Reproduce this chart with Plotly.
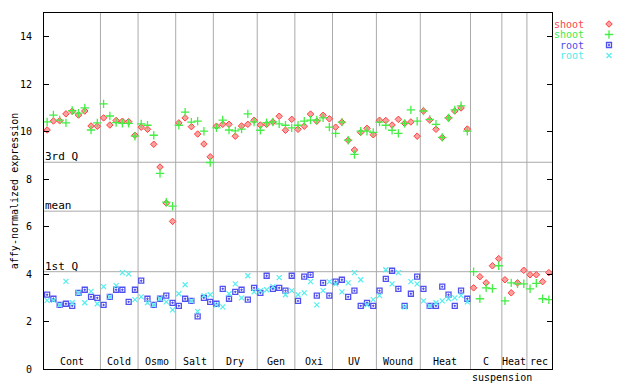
import plotly.graph_objects as go

group_labels = ["Cont", "Cold", "Osmo", "Salt", "Dry", "Gen", "Oxi", "UV", "Wound", "Heat", "C", "Heat", "rec"]
group_sizes = [9, 6, 6, 6, 7, 6, 6, 7, 7, 8, 5, 4, 4]
sub_label = "suspension"

quant_labels = ["3rd Q", "mean", "1st Q"]
quant_values = [8.71, 6.65, 4.10]

shoot_red = [
    10.07, 10.45, 10.46, 10.75, 10.86, 10.70, 10.87, 10.24, 10.23,
    10.58, 10.28, 10.47, 10.44, 10.42, 9.85,
    10.19, 10.10, 9.47, 8.51, 6.99, 6.22,
    10.37, 10.58, 10.21, 9.90, 9.48, 8.94,
    10.23, 10.31, 10.31, 9.81, 10.24, 10.31, 10.48,
    10.28, 10.31, 10.41, 10.65, 10.06, 10.52,
    10.10, 10.23, 10.74, 10.44, 10.69, 10.54,
    10.19, 10.40, 9.64, 9.23, 9.97, 10.14, 9.87,
    10.48, 10.47, 10.28, 10.52, 10.35, 10.41, 9.81,
    10.87, 10.49, 10.10, 9.75, 10.58, 10.87, 11.00, 10.11,
    3.42, 3.89, 3.63, 4.35, 4.65,
    3.76, 3.21, 3.63, 4.16,
    3.97, 3.97, 3.68, 4.06,
]
shoot_green = [
    10.41, 10.70, 10.49, 10.37, 10.89, 10.78, 11.00, 10.07, 10.37,
    11.17, 10.66, 10.38, 10.35, 10.35, 9.81,
    10.33, 10.27, 9.85, 8.24, 7.03, 6.86,
    10.27, 10.82, 10.40, 10.44, 10.02, 8.70,
    10.16, 10.49, 10.07, 10.03, 10.11, 10.75, 10.41,
    10.06, 10.38, 10.41, 10.33, 10.27, 10.16,
    10.27, 10.44, 10.49, 10.49, 10.58, 10.19,
    9.93, 10.40, 9.64, 9.04, 10.02, 10.02, 9.97,
    10.40, 10.27, 10.06, 9.93, 10.35, 10.92, 10.44,
    10.87, 10.52, 10.31, 9.76, 10.58, 10.92, 11.09, 10.02,
    4.10, 2.96, 3.42, 3.39, 4.35,
    2.87, 3.63, 3.59, 3.59,
    3.38, 3.61, 2.96, 2.92,
]
root_blue = [
    3.13, 2.96, 2.70, 2.75, 2.66, 3.21, 3.34, 3.04, 3.00,
    2.70, 3.04, 3.34, 3.34, 2.83, 3.34,
    3.72, 2.96, 2.70, 2.96, 3.09, 2.79,
    2.66, 2.96, 2.87, 2.22, 3.00, 2.83,
    2.75, 3.38, 2.96, 3.25, 3.34, 2.92, 3.42,
    3.21, 3.93, 3.38, 3.42, 3.30, 3.93,
    2.87, 3.89, 3.97, 3.09, 3.63, 3.09,
    3.68, 3.76, 3.04, 3.30, 2.66, 2.79, 2.66,
    3.30, 3.80, 4.14, 3.38, 2.66, 3.17, 3.89,
    3.38, 2.66, 2.66, 3.47, 3.13, 2.66, 3.30, 2.96,
]
root_cyan = [
    2.89, 2.89, 2.70, 3.69, 2.79, 3.21, 2.79, 3.27, 2.75,
    3.47, 3.04, 3.51, 4.06, 4.01, 2.92,
    3.04, 2.79, 2.70, 2.96, 2.83, 2.49,
    3.17, 3.55, 2.87, 2.43, 3.09, 3.13,
    2.70, 2.62, 3.17, 3.59, 3.00, 3.93, 3.25,
    3.30, 3.34, 3.47, 3.85, 3.13, 3.30,
    3.13, 3.21, 3.68, 2.70, 3.30, 3.68,
    3.59, 3.25, 3.63, 4.06, 3.76, 2.70, 2.92,
    3.09, 4.18, 3.59, 4.06, 2.62, 3.68, 3.59,
    2.87, 2.66, 2.79, 2.87, 2.96, 3.00, 3.09, 2.83,
]

series = [
    ("shoot", shoot_red, "#ff4545", dict(symbol="diamond", size=5, color="#ffa0a0", line=dict(color="#ff4040", width=1))),
    ("shoot", shoot_green, "#44e844", dict(symbol="cross-thin-open", size=6, color="#44ee44", line=dict(color="#44ee44", width=1.3))),
    ("root", root_blue, "#4d4de8", dict(symbol="square-open-dot", size=5, color="#5050ee", line=dict(color="#5050ee", width=1.3))),
    ("root", root_cyan, "#55e8e8", dict(symbol="x-thin-open", size=5, color="#55eeee", line=dict(color="#55eeee", width=1.2))),
]

FONT = "DejaVu Sans Mono"
n_total = sum(group_sizes)

fig = go.Figure()
for name, vals, tcol, mk in series:
    fig.add_trace(go.Scatter(x=list(range(len(vals))), y=vals, mode="markers",
                             marker=mk, showlegend=False, name=name, cliponaxis=False))

shapes = []
annotations = []
cum = 0
for lab, sz in zip(group_labels, group_sizes):
    center = cum + (sz - 1) / 2
    annotations.append(dict(x=center, y=0, xref="x", yref="paper", text=lab, showarrow=False,
                            xanchor="center", yanchor="bottom", font=dict(family=FONT, size=10, color="black")))
    cum += sz
    if cum < n_total:
        shapes.append(dict(type="line", xref="x", yref="y domain", x0=cum - 0.5, x1=cum - 0.5, y0=0, y1=1,
                           line=dict(color="#aaaaaa", width=1), layer="below"))

susp_x = sum(group_sizes[:11]) - 0.5
annotations.append(dict(x=susp_x, y=0, xref="x", yref="paper", text=sub_label, showarrow=False,
                        xanchor="center", yanchor="top", yshift=-1, font=dict(family=FONT, size=10, color="black")))

for lab, v in zip(quant_labels, quant_values):
    shapes.append(dict(type="line", xref="x domain", yref="y", x0=0, x1=1, y0=v, y1=v,
                       line=dict(color="#aaaaaa", width=1), layer="below"))
    annotations.append(dict(x=0, y=v, xref="x domain", yref="y", text=lab, showarrow=False,
                            xanchor="left", yanchor="bottom", xshift=-1, yshift=-3,
                            font=dict(family=FONT, size=11, color="black")))

annotations.append(dict(x=-0.05, y=0.5, xref="paper", yref="paper", text="affy-normalized expression",
                        textangle=-90, showarrow=False, xanchor="center", yanchor="middle",
                        font=dict(family=FONT, size=10, color="black")))

# legend (text on left, marker on right)
leg_y = [24, 34.5, 45, 55.5]
for (name, vals, tcol, mk), ly in zip(series, leg_y):
    fig.add_trace(go.Scatter(x=[609], y=[ly], xaxis="x2", yaxis="y2", mode="markers",
                             marker=mk, showlegend=False, hoverinfo="skip", cliponaxis=False))
    annotations.append(dict(x=586, y=ly, xref="x2", yref="y2", text=name, showarrow=False,
                            xanchor="right", yanchor="middle", font=dict(family=FONT, size=10, color=tcol)))

fig.update_layout(
    width=640, height=384,
    margin=dict(l=44, r=0, t=13, b=15),
    paper_bgcolor="white", plot_bgcolor="white",
    xaxis=dict(domain=[0, 508 / 596], range=[-0.5, n_total - 0.5], showline=True, linecolor="black",
               linewidth=1, mirror=True, ticks="", showticklabels=False, showgrid=False, zeroline=False),
    yaxis=dict(range=[0, 15], tickvals=list(range(0, 15, 2)), ticks="inside", ticklen=5, tickcolor="black",
               showline=True, linecolor="black", linewidth=1, mirror="ticks", showgrid=False, zeroline=False,
               tickfont=dict(family=FONT, size=10, color="black"), ticklabelstandoff=9),
    xaxis2=dict(domain=[509 / 596, 1], range=[553, 640], visible=False, anchor="y2"),
    yaxis2=dict(domain=[0, 1], range=[369, 13], visible=False, anchor="x2"),
    shapes=shapes, annotations=annotations,
    font=dict(family=FONT, size=10, color="black"),
)

fig.write_html("out.html", config={"displayModeBar": False},
               post_script="document.body.style.margin='0';document.body.style.padding='0';")
